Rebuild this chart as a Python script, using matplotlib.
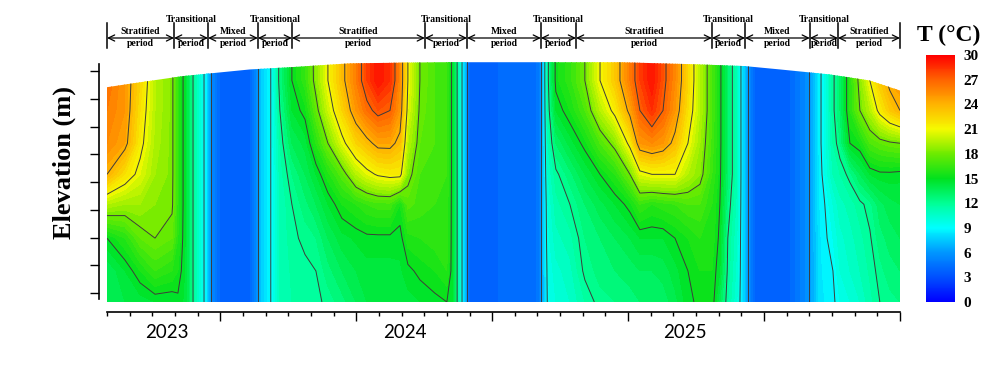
import numpy as np
import matplotlib
matplotlib.use('Agg')
from matplotlib import pyplot as plt
from matplotlib.colors import LinearSegmentedColormap, Normalize
from matplotlib.cm import ScalarMappable
from matplotlib.patches import PathPatch
from matplotlib.path import Path
from matplotlib.transforms import blended_transform_factory

# time axis in months from the start of the record, elevation rows bottom -> top
months = [0.00, 0.79, 1.46, 2.12, 2.87, 3.13, 3.49, 3.93, 4.37, 4.63, 4.99, 5.87, 6.31, 6.58,
          6.84, 7.28, 7.63, 8.16, 8.74, 9.22, 9.75, 10.37, 10.99, 11.47, 11.96, 12.49, 12.93,
          13.28, 13.81, 14.47, 15.00, 15.27, 15.49, 15.67, 15.84, 16.06, 16.55, 18.67, 19.02,
          19.20, 19.46, 19.81, 20.43, 21.09, 21.76, 22.42, 23.08, 23.52, 24.05, 24.54, 25.07,
          25.64, 26.17, 26.70, 27.05, 27.40, 27.80, 28.07, 28.29, 28.60, 30.14, 30.58, 30.94,
          31.11, 31.46, 31.68, 32.04, 32.35, 32.79, 33.23, 33.67, 34.11, 34.55, 35.00]
elevation = [153.4, 159.0, 164.9, 171.0, 176.4, 182.0, 187.9, 193.3, 197.0]

# one profile per month entry (bottom -> top); a single number = well mixed column
temp_profiles = [
    [13.5, 13.5, 15.0, 19.5, 24.0, 25.5, 26.0, 26.5, 26.5],
    [14.0, 14.5, 16.0, 19.0, 22.0, 24.5, 25.0, 25.0, 25.0],
    [14.2, 15.5, 17.5, 19.0, 20.5, 21.5, 22.0, 22.5, 22.5],
    [14.5, 16.5, 18.0, 18.5, 19.0, 19.3, 19.5, 19.5, 19.5],
    [14.5, 16.0, 17.5, 18.2, 18.3, 18.3, 18.3, 18.3, 18.3],
    [14.8, 15.5, 16.0, 16.2, 16.2, 16.2, 16.2, 16.2, 16.2],
    14.3, 11.0, 8.5, 5.5, 4.0, 3.7, 4.0, 5.5, 7.5, 9.2,
    [11.0, 11.0, 11.0, 11.0, 11.2, 11.5, 12.0, 12.5, 12.5],
    [11.5, 11.6, 11.8, 12.0, 12.5, 13.5, 14.5, 15.0, 15.0],
    [11.6, 11.8, 12.2, 12.8, 13.5, 14.2, 15.3, 16.3, 16.5],
    [11.8, 12.0, 12.5, 13.5, 14.5, 16.0, 17.5, 18.5, 18.5],
    [12.2, 12.8, 13.5, 14.5, 15.8, 18.0, 20.0, 21.0, 21.0],
    [12.8, 13.5, 14.3, 15.5, 17.3, 20.5, 22.5, 23.5, 23.5],
    [13.5, 14.0, 14.6, 16.0, 19.5, 22.5, 25.0, 26.0, 26.0],
    [14.0, 14.3, 14.8, 16.5, 20.5, 23.5, 26.5, 28.0, 28.0],
    [14.0, 14.3, 14.8, 16.8, 21.2, 24.5, 27.5, 29.5, 29.5],
    [14.2, 14.3, 14.8, 16.8, 21.5, 24.5, 27.0, 28.5, 28.5],
    [14.2, 14.4, 14.7, 15.5, 21.5, 23.5, 25.0, 25.5, 25.5],
    [14.3, 14.8, 15.8, 17.2, 18.5, 19.5, 20.5, 21.0, 21.0],
    [14.5, 15.2, 16.0, 16.8, 17.0, 17.5, 17.8, 18.0, 18.0],
    [14.8, 15.5, 16.3, 16.5, 16.8, 17.0, 17.0, 17.0, 17.0],
    [15.0, 16.0, 16.2, 16.3, 16.5, 16.5, 16.5, 16.5, 16.5],
    14.5, 11.5, 9.0, 6.5, 3.6, 3.9, 4.2, 4.6, 6.5,
    [9.3, 9.5, 9.8, 10.0, 10.5, 11.0, 11.5, 11.8, 11.8],
    [10.0, 10.3, 10.8, 11.3, 11.8, 13.0, 14.5, 15.3, 15.3],
    [10.5, 10.8, 11.3, 12.0, 12.8, 14.2, 15.5, 16.3, 16.3],
    [11.5, 12.2, 12.5, 13.0, 14.0, 15.3, 17.0, 18.0, 18.0],
    [12.3, 12.7, 13.0, 13.8, 15.0, 17.0, 19.5, 21.0, 21.0],
    [12.5, 13.0, 13.5, 14.5, 16.0, 18.5, 21.5, 23.0, 23.0],
    [12.8, 13.2, 14.0, 15.3, 18.0, 21.5, 24.5, 26.0, 26.0],
    [13.0, 13.5, 14.5, 16.5, 20.5, 25.0, 27.0, 28.0, 28.0],
    [13.0, 13.5, 14.5, 16.0, 21.0, 25.5, 28.5, 29.5, 29.5],
    [13.2, 13.7, 14.5, 16.3, 21.0, 25.0, 27.0, 27.5, 27.5],
    [13.8, 14.3, 15.0, 16.5, 21.0, 23.5, 25.0, 25.5, 25.5],
    [14.8, 15.0, 15.5, 17.0, 19.5, 21.0, 22.0, 22.5, 22.5],
    [15.2, 15.5, 16.0, 17.0, 18.5, 19.0, 19.5, 19.5, 19.5],
    [15.5, 15.5, 15.8, 16.0, 16.5, 16.8, 17.0, 17.0, 17.0],
    [13.5, 14.5, 14.8, 15.0, 15.2, 15.3, 15.3, 15.3, 15.3],
    [11.5, 11.8, 12.0, 12.5, 13.0, 13.0, 13.0, 13.0, 13.0],
    [10.0, 10.3, 10.5, 10.8, 11.0, 11.0, 11.0, 11.0, 11.0],
    8.0, 6.0, 4.0, 4.0, 5.0, 5.8, 6.5,
    [8.3, 8.3, 8.4, 8.5, 8.6, 8.8, 8.8, 8.8, 8.8],
    [8.5, 8.7, 8.8, 9.0, 9.5, 9.6, 9.6, 9.6, 9.6],
    [8.8, 9.0, 9.5, 10.0, 11.0, 11.5, 11.8, 11.8, 11.8],
    [9.5, 10.0, 10.3, 10.8, 11.5, 12.5, 13.0, 13.0, 13.0],
    [10.0, 10.5, 10.8, 11.2, 12.3, 15.0, 16.0, 16.0, 16.0],
    [10.5, 11.0, 11.3, 11.8, 13.5, 15.5, 18.0, 18.5, 18.5],
    [11.3, 11.6, 11.9, 12.3, 14.5, 17.0, 19.5, 21.0, 21.0],
    [12.0, 12.3, 12.8, 13.3, 14.8, 17.5, 21.5, 23.0, 23.0],
    [12.3, 12.8, 13.2, 13.8, 14.8, 17.8, 23.0, 24.5, 24.5],
    [12.5, 13.0, 13.5, 14.0, 14.7, 18.0, 24.0, 25.0, 25.0],
]

# water surface elevation
surface_months = [0.0, 1.15, 3.35, 6.31, 8.08, 10.72, 14.70, 19.10, 22.64, 26.17, 28.16,
                  29.70, 31.90, 33.67, 35.0]
surface_elev = [192.1, 192.8, 194.1, 195.3, 195.7, 196.4, 196.6, 196.6, 196.6, 196.2, 195.9,
                195.3, 194.4, 193.3, 191.5]

period_edges = [0, 2.96, 4.46, 6.66, 8.16, 14.03, 15.89, 19.15, 20.70, 26.70, 28.16, 31.02,
                32.26, 35.0]
period_names = ['Stratified', 'Transitional', 'Mixed', 'Transitional', 'Stratified',
                'Transitional', 'Mixed', 'Transitional', 'Stratified', 'Transitional',
                'Mixed', 'Transitional', 'Stratified']

years = ['2023', '2024', '2025']
year_months = [2.63, 13.13, 25.5]
major_months = [5, 11, 17, 23, 29, 35]

cbar_ticks = list(range(0, 31, 3))
line_levels = list(range(3, 30, 3))

cmap_stops = [0, 3, 6, 9, 12, 15, 18, 21, 24, 27, 30]
cmap_colors = ['#0000ff', '#0050ff', '#0096ff', '#00ffff', '#00ff96', '#00e11e',
               '#6eeb00', '#f5fa00', '#ffb400', '#ff6400', '#ff0000']

SERIF = 'Liberation Serif'

cmap = LinearSegmentedColormap.from_list(
    'temp', [(v / 30, c) for v, c in zip(cmap_stops, cmap_colors)])

T = np.column_stack([np.full(len(elevation), p) if np.isscalar(p) else np.array(p)
                     for p in temp_profiles])

fig = plt.figure(figsize=(10, 3.67), dpi=100)
H = 367.0


def fy(px):
    return 1 - px / H


ax = fig.add_axes([0.107, fy(302), 0.793, 242 / H])
cs = ax.contourf(months, elevation, T, levels=np.arange(0, 30.01, 0.5), cmap=cmap,
                 vmin=0, vmax=30, extend='both')
cl = ax.contour(months, elevation, T, levels=line_levels, colors='#3c3c3c', linewidths=0.7)

# clip everything to the water body under the surface line
verts = [(surface_months[0], elevation[0])] + list(zip(surface_months, surface_elev)) + \
        [(surface_months[-1], elevation[0])]
clip = PathPatch(Path(verts), transform=ax.transData, facecolor='none', edgecolor='none')
ax.add_patch(clip)
cs.set_clip_path(clip)
cl.set_clip_path(clip)

ax.set_xlim(0, 35)
ax.set_ylim(elevation[0], elevation[-1])
for s in ['top', 'right']:
    ax.spines[s].set_visible(False)
ax.spines['left'].set_position(('outward', 6))
ax.spines['bottom'].set_position(('outward', 7))
ax.spines['left'].set_bounds(154.0, 196.2)
ax.spines['left'].set_linewidth(1.2)
ax.spines['bottom'].set_linewidth(1.2)

ax.set_xticks(major_months)
ax.set_xticks(range(0, 36), minor=True)
ax.set_yticks(range(155, 196, 5))
ax.tick_params(axis='x', which='major', length=6.5, width=1.0, labelbottom=False)
ax.tick_params(axis='x', which='minor', length=3, width=1.0)
ax.tick_params(axis='y', length=6.5, width=1.0, labelleft=False)

trans = blended_transform_factory(ax.transData, fig.transFigure)

for yr, m in zip(years, year_months):
    ax.text(m, fy(333), yr, transform=trans, ha='center', va='center', fontsize=13.5,
            family='Lato')

# period annotations above the plot
for x in period_edges:
    ax.plot([x, x], [fy(23), fy(48)], transform=trans, color='black', lw=1.1, clip_on=False)
for name, x0, x1 in zip(period_names, period_edges[:-1], period_edges[1:]):
    xc = (x0 + x1) / 2
    ax.annotate('', xy=(x1, fy(38)), xytext=(x0, fy(38)), xycoords=trans, textcoords=trans,
                arrowprops=dict(arrowstyle='<->,head_length=0.45,head_width=0.22', lw=0.9,
                                color='black', shrinkA=0, shrinkB=0))
    y_name = fy(19.5) if name == 'Transitional' else fy(31)
    ax.text(xc, y_name, name, transform=trans, ha='center', va='center', fontsize=7,
            family=SERIF, weight='bold')
    ax.text(xc, fy(44), 'period', transform=trans, ha='center', va='center', fontsize=7,
            family=SERIF, weight='bold')

fig.text(0.064, fy(162), 'Elevation (m)', rotation=90, ha='center', va='center',
         fontsize=19, family=SERIF, weight='bold')

cax = fig.add_axes([0.926, fy(302), 0.029, 247 / H])
cbar = fig.colorbar(ScalarMappable(norm=Normalize(0, 30), cmap=cmap), cax=cax, ticks=cbar_ticks)
cbar.outline.set_visible(False)
cax.tick_params(length=0, pad=6)
for lab in cax.get_yticklabels():
    lab.set_family(SERIF)
    lab.set_weight('bold')
    lab.set_fontsize(11)
fig.text(0.949, fy(35), 'T (°C)', ha='center', va='center', fontsize=17, family=SERIF,
         weight='bold')

fig.savefig('out.png', dpi=100)
